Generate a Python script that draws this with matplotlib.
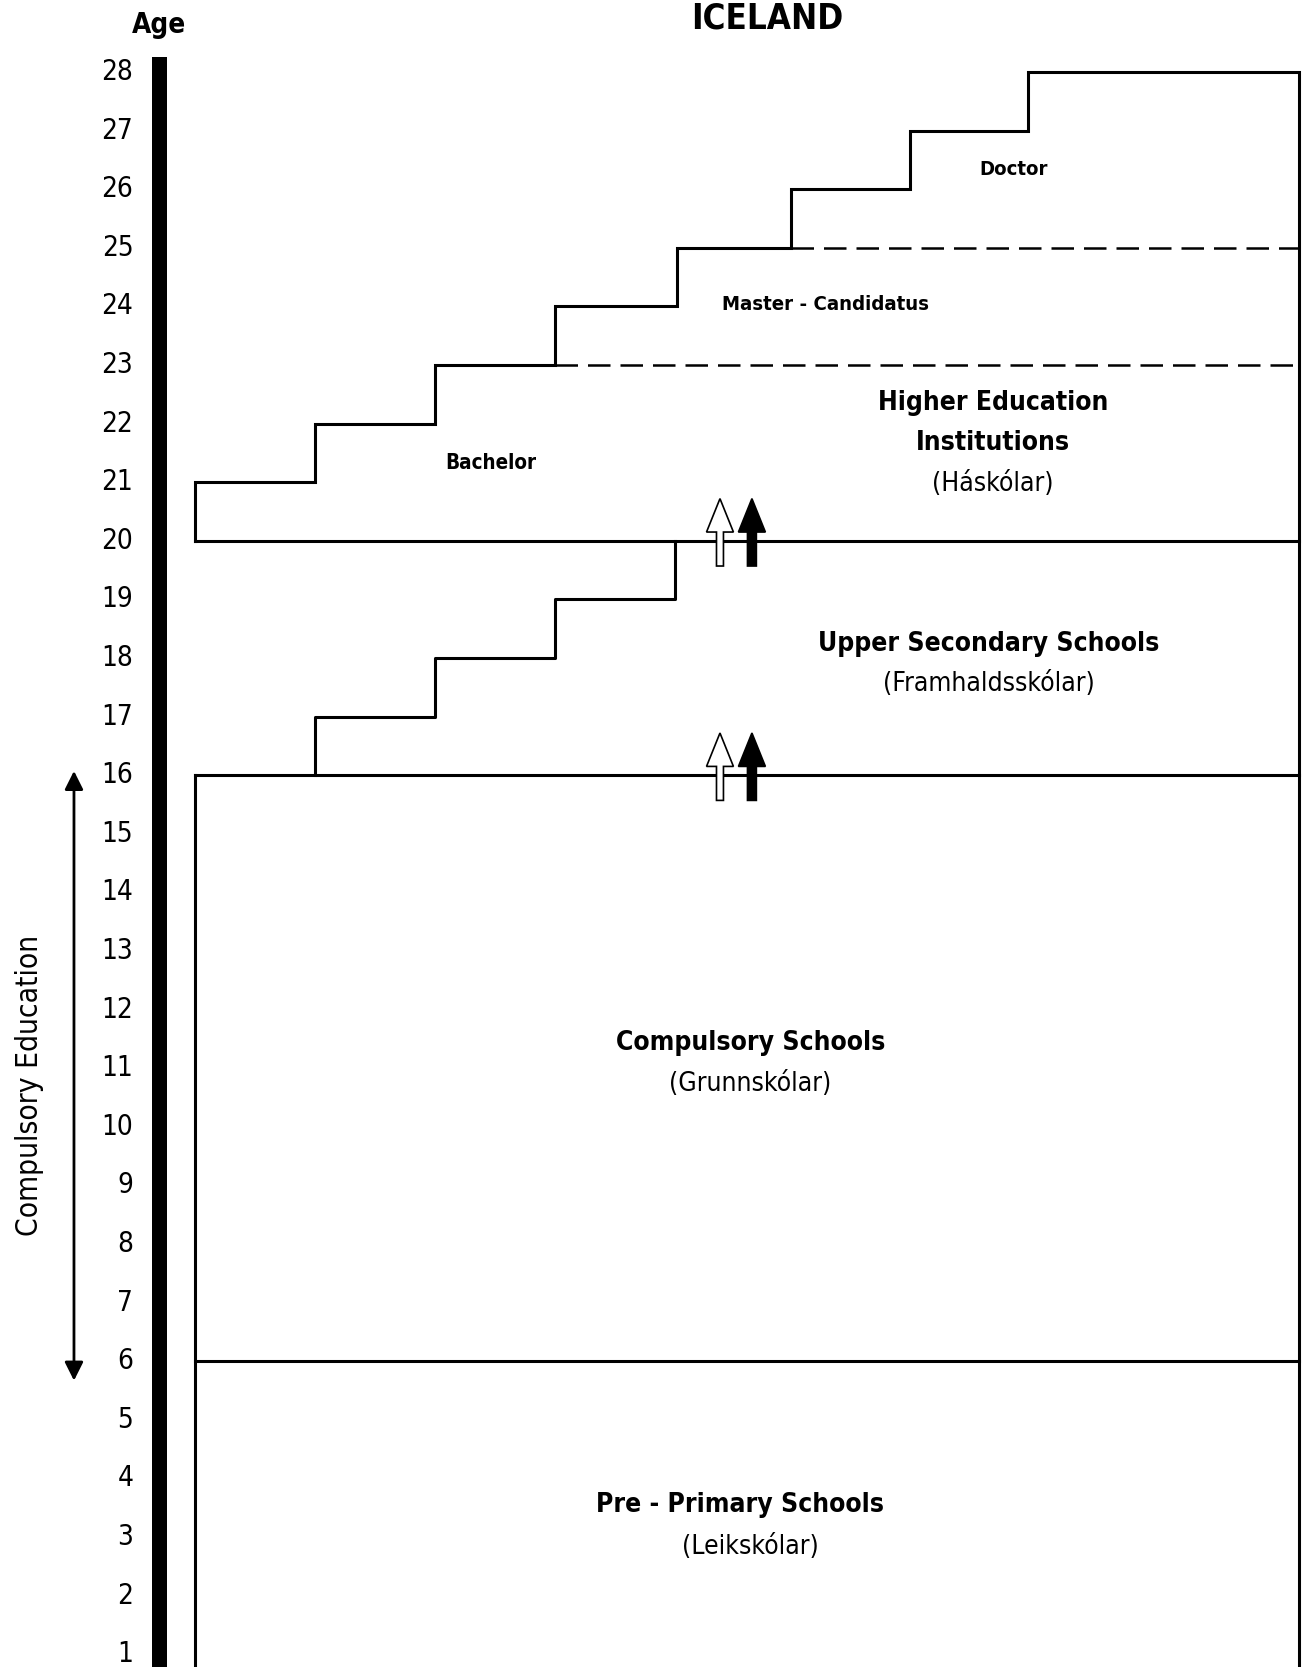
import matplotlib
matplotlib.use("Agg")
import matplotlib.pyplot as plt
from matplotlib.patches import Polygon, Rectangle

# =============================
# DATA
# =============================
ages = list(range(1, 29))

# staircase of the upper secondary block (column, age)
upper_steps_x = [1, 1, 2, 2, 3, 3, 4, 4]
upper_steps_y = [16, 17, 17, 18, 18, 19, 19, 20]

# staircase of higher education block (column, age)
higher_steps_x = [0, 0, 1, 1, 2, 2, 3, 3, 4.02, 4.02, 4.97, 4.97, 5.96, 5.96, 6.94, 6.94, 9.2, 9.2]
higher_steps_y = [20, 21, 21, 22, 22, 23, 23, 24, 24, 25, 25, 26, 26, 27, 27, 28, 28, 0.5]

# dashed level lines: (start column, age)
dashed_levels = [(3, 23), (4.97, 25)]

# full-width level lines
level_lines = [6, 16, 20]

# level labels: (column, age, text, bold, size)
labels = [
    (6.82, 26.33, "Doctor", True, 14.6),
    (5.25, 24.04, "Master - Candidatus", True, 14.6),
    (2.47, 21.33, "Bachelor", True, 14.8),
    (6.65, 22.35, "Higher Education", True, 19),
    (6.65, 21.67, "Institutions", True, 19),
    (6.65, 20.97, "(Háskólar)", False, 19),
    (6.61, 18.24, "Upper Secondary Schools", True, 19),
    (6.61, 17.56, "(Framhaldsskólar)", False, 19),
    (4.63, 11.43, "Compulsory Schools", True, 19),
    (4.63, 10.73, "(Grunnskólar)", False, 19),
    (4.54, 3.55, "Pre - Primary Schools", True, 19),
    (4.63, 2.83, "(Leikskólar)", False, 19),
]

# transition arrows (age of the level they cross)
arrow_levels = [20, 16]

plt.rcParams['font.family'] = ['DejaVu Sans']
plt.rcParams['font.stretch'] = 'condensed'

fig = plt.figure(figsize=(13.04, 16.67), dpi=100)
ax = fig.add_axes([0, 0, 1, 1])
ax.set_xlim(-1.62, 9.238)
ax.set_ylim(0.78, 29.23)
ax.axis("off")

lw = 2.2

# age bar + ticks
ax.add_patch(Rectangle((-0.354, 0.0), 0.125, 28.25, color="black", lw=0))
for a in ages:
    ax.text(-0.51, a, str(a), ha="right", va="center", fontsize=20)
ax.text(-0.30, 28.8, "Age", ha="center", va="center", fontsize=20, fontweight="bold")
ax.text(4.77, 28.92, "ICELAND", ha="center", va="center", fontsize=25, fontweight="bold")

# boxes
ax.plot([0, 0], [0.5, 16], color="black", lw=lw)
for lv in level_lines:
    ax.plot([0, 9.2], [lv, lv], color="black", lw=lw)
ax.plot(upper_steps_x, upper_steps_y, color="black", lw=lw)
ax.plot(higher_steps_x, higher_steps_y, color="black", lw=lw, solid_joinstyle="miter")
for x0, lv in dashed_levels:
    ax.plot([x0, 9.2], [lv, lv], color="black", lw=1.8, linestyle=(0, (9, 4)))

# transition arrows
for lv in arrow_levels:
    tip = lv + 0.72
    base = lv + 0.15
    bottom = lv - 0.43
    for cx, sw, fc in [(4.375, 0.029, "white"), (4.641, 0.037, "black")]:
        hw = 0.112
        pts = [(cx, tip), (cx + hw, base), (cx + sw, base), (cx + sw, bottom),
               (cx - sw, bottom), (cx - sw, base), (cx - hw, base)]
        ax.add_patch(Polygon(pts, closed=True, facecolor=fc, edgecolor="black", lw=1.2, zorder=5))

# compulsory education arrow
ax.annotate("", xy=(-1.004, 16.12), xytext=(-1.004, 5.62),
            arrowprops=dict(arrowstyle="<|-|>", color="black", lw=2, mutation_scale=28))
ax.text(-1.378, 10.7, "Compulsory Education", rotation=90, ha="center", va="center", fontsize=21.4)

for x, y, t, b, s in labels:
    ax.text(x, y, t, ha="center", va="center", fontsize=s,
            fontweight="bold" if b else "normal")

plt.savefig("out.png", dpi=100)
